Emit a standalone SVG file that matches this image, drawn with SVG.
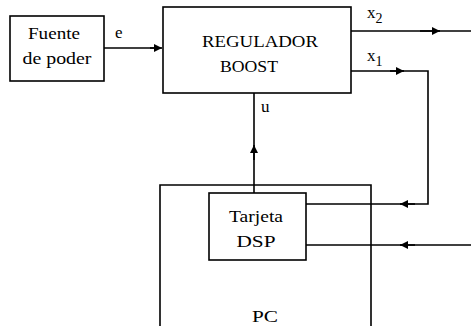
<svg xmlns="http://www.w3.org/2000/svg" width="471" height="326" viewBox="0 0 471 326">
<defs>
<marker id="ah" viewBox="0 0 10 10" refX="10" refY="5" markerWidth="8" markerHeight="8" markerUnits="userSpaceOnUse" orient="auto">
<path d="M0,0 L10,5 L0,10 Z" fill="#000"/>
</marker>
</defs>
<style>
.box{fill:#fff;stroke:#000;stroke-width:1.6}
.ln{fill:none;stroke:#000;stroke-width:1.6}
.t{font-family:"Liberation Serif",serif !important;font-size:17px;fill:#000}
.c{text-anchor:middle}
.s{font-size:14px}
</style>
<rect width="471" height="326" fill="#fff"/>
<g id="connectors">
<line class="ln" x1="104" y1="48" x2="158" y2="48"/>
<line class="ln" x1="150" y1="48" x2="162" y2="48" marker-end="url(#ah)"/>
<line class="ln" x1="254" y1="193" x2="254" y2="93"/>
<line class="ln" x1="254" y1="160" x2="254" y2="145" marker-end="url(#ah)"/>
<line class="ln" x1="351" y1="31" x2="471" y2="31"/>
<line class="ln" x1="420" y1="31" x2="440" y2="31" marker-end="url(#ah)"/>
<polyline class="ln" points="351,71 428,71 428,204 306,204"/>
<line class="ln" x1="390" y1="71" x2="404" y2="71" marker-end="url(#ah)"/>
<line class="ln" x1="415" y1="204" x2="400" y2="204" marker-end="url(#ah)"/>
<line class="ln" x1="471" y1="245" x2="306" y2="245"/>
<line class="ln" x1="415" y1="245" x2="400" y2="245" marker-end="url(#ah)"/>
<text class="t" style="font-family:'Liberation Serif',serif" x="115" y="38">e</text>
<text class="t" style="font-family:'Liberation Serif',serif" x="261" y="112">u</text>
<text class="t" style="font-family:'Liberation Serif',serif" x="367" y="18">x<tspan class="s" dy="5">2</tspan></text>
<text class="t" style="font-family:'Liberation Serif',serif" x="367" y="61">x<tspan class="s" dy="5">1</tspan></text>
</g>
<g id="fuente">
<rect class="box" x="10" y="16" width="94" height="65"/>
<text class="t c" style="font-family:'Liberation Serif',serif" x="54" y="39" textLength="52" lengthAdjust="spacingAndGlyphs">Fuente</text>
<text class="t c" style="font-family:'Liberation Serif',serif" x="57" y="64" textLength="69" lengthAdjust="spacingAndGlyphs">de poder</text>
</g>
<g id="regulador">
<rect class="box" x="163" y="7" width="188" height="86"/>
<text class="t c" style="font-family:'Liberation Serif',serif" x="260" y="47" textLength="116" lengthAdjust="spacingAndGlyphs">REGULADOR</text>
<text class="t c" style="font-family:'Liberation Serif',serif" x="249" y="72" textLength="58" lengthAdjust="spacingAndGlyphs">BOOST</text>
</g>
<g id="pc">
<path class="ln" d="M160,330 L160,185 L371,185 L371,330"/>
<text class="t c" style="font-family:'Liberation Serif',serif" x="265" y="322" textLength="26" lengthAdjust="spacingAndGlyphs">PC</text>
</g>
<g id="tarjeta">
<rect class="box" x="209" y="193" width="97" height="67"/>
<text class="t c" style="font-family:'Liberation Serif',serif" x="256" y="222" textLength="54" lengthAdjust="spacingAndGlyphs">Tarjeta</text>
<text class="t c" style="font-family:'Liberation Serif',serif" x="256" y="247" textLength="39" lengthAdjust="spacingAndGlyphs">DSP</text>
</g>
</svg>
